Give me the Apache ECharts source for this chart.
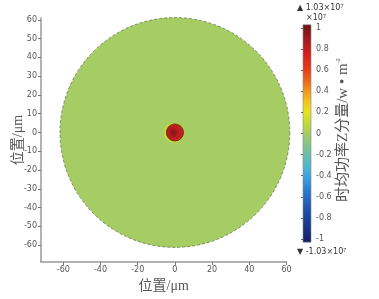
<!DOCTYPE html>
<html><head><meta charset="utf-8">
<script src="https://cdn.jsdelivr.net/npm/echarts@6/dist/echarts.min.js"></script>
<style>html,body{margin:0;padding:0;background:#fff}#c{width:379px;height:299px}</style>
</head><body><div id="c"></div>
<script>
// ---- data ----
const xTicks = [-60, -40, -20, 0, 20, 40, 60];
const yTicks = [-60, -50, -40, -30, -20, -10, 0, 10, 20, 30, 40, 50, 60];
const domain = [[0, 0, 61.5, 0]];        // [cx, cy, radius(μm), value]
const hotspot = [[0, 0, 4.6, 1.03e7]];   // [cx, cy, radius(μm), value]
const cbTicks = [-1, -0.8, -0.6, -0.4, -0.2, 0, 0.2, 0.4, 0.6, 0.8, 1];
const cbRange = [-1.03, 1.03];           // ×10^7
const scale = 1e7;

// colormap stops (value in units of 1e7 -> colour)
const cmap = [
  [1.03, '#6a1216'], [0.9, '#a01a1e'], [0.75, '#d4201e'], [0.6, '#e4401a'],
  [0.45, '#ee7e1e'], [0.3, '#f2c61e'], [0.2, '#e6e21e'], [0.1, '#c4da3c'],
  [0, '#a6cc64'], [-0.15, '#78c29a'], [-0.3, '#52b8cc'], [-0.42, '#3aa0de'],
  [-0.55, '#2a78cc'], [-0.7, '#2056b0'], [-0.85, '#1a3a90'], [-1.03, '#161c66']
];
function hex(c){return [1,3,5].map(i=>parseInt(c.substr(i,2),16));}
function colorOf(v){
  v = v/scale;
  for (let i=0;i<cmap.length-1;i++){
    const a=cmap[i], b=cmap[i+1];
    if (v<=a[0] && v>=b[0]){
      const t=(a[0]-v)/(a[0]-b[0]); const ca=hex(a[1]), cb=hex(b[1]);
      return 'rgb('+ca.map((x,k)=>Math.round(x+(cb[k]-x)*t)).join(',')+')';
    }
  }
  return v>0?cmap[0][1]:cmap[cmap.length-1][1];
}

const chart = echarts.init(document.getElementById('c'), null, {renderer:'canvas'});
const tickFont = {color:'#555', fontSize:8, fontFamily:'DejaVu Sans'};
const axisName = {color:'#555', fontSize:14, fontFamily:'Liberation Serif, Noto Sans CJK SC'};

chart.setOption({
  animation:false,
  grid:[
    {left:41, top:18, width:245.5, height:244, outerBoundsMode:'none', containLabel:false},
    {left:303, top:28, width:8, height:211, outerBoundsMode:'none', containLabel:false}
  ],
  xAxis:[
    {gridIndex:0, type:'value', min:-72, max:60,
     name:'位置/μm', nameLocation:'middle', nameGap:13, nameTextStyle:axisName,
     axisLine:{onZero:false, lineStyle:{color:'#999', width:1.5}},
     axisTick:{customValues:xTicks, length:3, lineStyle:{color:'#777'}},
     axisLabel:{customValues:xTicks, ...tickFont, margin:4},
     splitLine:{show:false}},
    {gridIndex:1, type:'value', min:0, max:1, show:false}
  ],
  yAxis:[
    {gridIndex:0, type:'value', min:-69, max:61,
     name:'位置/μm', nameLocation:'middle', nameGap:16, nameMoveOverlap:false, nameTextStyle:axisName,
     axisLine:{onZero:false, lineStyle:{color:'#999', width:1.5}},
     axisTick:{customValues:yTicks, length:3, lineStyle:{color:'#777'}},
     axisLabel:{customValues:yTicks, ...tickFont, margin:4},
     splitLine:{show:false}},
    {gridIndex:1, type:'value', min:-1, max:1, interval:0.2, position:'right',
     axisLine:{show:false},
     axisTick:{show:true, inside:true, length:2, lineStyle:{color:'#333', width:0.8}},
     axisLabel:{...tickFont, margin:5, formatter:v=>String(+v.toFixed(1))},
     splitLine:{show:false}}
  ],
  series:[
    {type:'custom', xAxisIndex:0, yAxisIndex:0, data:domain, clip:false,
     renderItem:(p,api)=>{
       const c=api.coord([api.value(0),api.value(1)]);
       const s=api.size([api.value(2),api.value(2)]);
       return {type:'circle', shape:{cx:c[0],cy:c[1],r:(s[0]+s[1])/2},
         style:{fill:colorOf(api.value(3)), stroke:'#556644', lineWidth:0.7, lineDash:[3,2]}};
     }},
    {type:'custom', xAxisIndex:0, yAxisIndex:0, data:hotspot, clip:false,
     renderItem:(p,api)=>{
       const c=api.coord([api.value(0),api.value(1)]);
       const s=api.size([api.value(2),api.value(2)]);
       const r=(s[0]+s[1])/2, v=api.value(3);
       return {type:'group', children:[
         {type:'circle', shape:{cx:c[0]-0.8,cy:c[1]+0.3,r:r+1.4},
          style:{fill:colorOf(0.22*scale), opacity:0.8}},
         {type:'circle', shape:{cx:c[0],cy:c[1],r:r},
          style:{fill:{type:'radial',x:0.42,y:0.5,r:0.6,colorStops:[
            {offset:0,color:colorOf(v*0.95)},{offset:0.5,color:colorOf(v*0.8)},{offset:1,color:colorOf(v*0.72)}]},
            stroke:'#3a2a10', lineWidth:0.8}}
       ]};
     }},
    {type:'custom', xAxisIndex:1, yAxisIndex:1, data:[[0,cbRange[1],cbRange[0]]], clip:false,
     renderItem:(p,api)=>{
       const t=api.coord([0,api.value(1)]), b=api.coord([1,api.value(2)]);
       const stops=cmap.map(s=>({offset:(cbRange[1]-s[0])/(cbRange[1]-cbRange[0]), color:s[1]}));
       return {type:'rect', shape:{x:t[0],y:t[1],width:b[0]-t[0],height:b[1]-t[1]},
         style:{fill:{type:'linear',x:0,y:0,x2:0,y2:1,colorStops:stops}, stroke:'#888', lineWidth:0.6}};
     }}
  ],
  graphic:[
    {type:'text', left:297, top:3, style:{text:'▲ 1.03×10{s|7}', fill:'#333', fontSize:8, fontFamily:'DejaVu Sans',
      rich:{s:{fontSize:5.5, verticalAlign:'top', padding:[0,0,4,0]}}}},
    {type:'text', left:306, top:13, style:{text:'×10{s|7}', fill:'#333', fontSize:8, fontFamily:'DejaVu Sans',
      rich:{s:{fontSize:5.5, padding:[0,0,4,0]}}}},
    {type:'text', left:297, top:247, style:{text:'▼ -1.03×10{s|7}', fill:'#333', fontSize:8, fontFamily:'DejaVu Sans',
      rich:{s:{fontSize:5.5, padding:[0,0,4,0]}}}},
    {type:'text', x:343, y:130, rotation:Math.PI/2,
     style:{text:'时均功率Z分量/w • m{s|-2}', fill:'#555', fontSize:15, fontFamily:'Liberation Serif, Noto Sans CJK SC',
       align:'center', verticalAlign:'middle', rich:{s:{fontSize:6, padding:[0,0,9,0]}}}}
  ]
});
</script></body></html>
